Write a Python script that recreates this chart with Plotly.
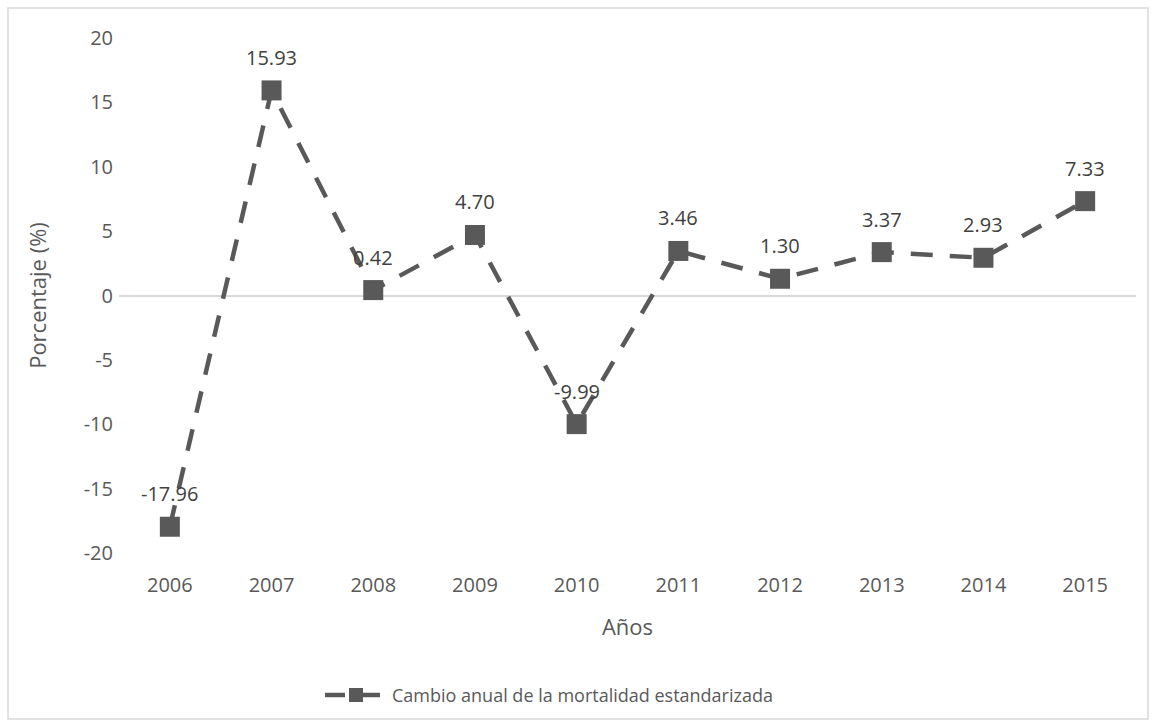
import plotly.graph_objects as go

years = [2006, 2007, 2008, 2009, 2010, 2011, 2012, 2013, 2014, 2015]
cambio = [-17.96, 15.93, 0.42, 4.70, -9.99, 3.46, 1.30, 3.37, 2.93, 7.33]
y_ticks = [-20, -15, -10, -5, 0, 5, 10, 15, 20]
series_name = "Cambio anual de la mortalidad estandarizada"

GREY = "#595959"
FONT = "Open Sans, Liberation Sans, sans-serif"

fig = go.Figure()
fig.add_trace(go.Scatter(
    x=years, y=cambio, mode="lines+markers", name=series_name, showlegend=False,
    line=dict(color=GREY, width=4.5, dash="22px,17px"),
    marker=dict(symbol="square", size=20, color=GREY),
))

# value labels above each point
for yr, v in zip(years, cambio):
    fig.add_annotation(x=yr, y=v, text=f"{v:.2f}", showarrow=False,
                       yshift=33, font=dict(family=FONT, size=20, color="#404040"))

# legend key drawn below the axis title: dashed stub, square, label
PW, PH, L, B = 1017, 515, 119, 553
def px(xp):
    return (xp - L) / PW
def py(yp):
    return (B - yp) / PH

legend_shapes = [
    dict(type="line", xref="paper", yref="paper", x0=px(325), x1=px(345),
         y0=py(695), y1=py(695), line=dict(color=GREY, width=4.5)),
    dict(type="line", xref="paper", yref="paper", x0=px(362), x1=px(380),
         y0=py(695), y1=py(695), line=dict(color=GREY, width=4.5)),
    dict(type="rect", xref="paper", yref="paper", x0=px(349), x1=px(363),
         y0=py(702), y1=py(688), fillcolor=GREY, line=dict(width=0)),
]
fig.add_annotation(xref="paper", yref="paper", x=px(390), y=py(695), text=series_name,
                   showarrow=False, xanchor="left", yanchor="middle",
                   font=dict(family=FONT, size=18, color=GREY))

fig.update_layout(
    width=1156, height=727,
    paper_bgcolor="white", plot_bgcolor="white",
    margin=dict(l=L, r=20, t=38, b=727 - B),
    font=dict(family=FONT, size=18, color=GREY),
    showlegend=False,
    shapes=[dict(type="rect", xref="paper", yref="paper", x0=px(8), x1=px(1148),
                 y0=py(719), y1=py(8), line=dict(color="#D9D9D9", width=1.5))] + legend_shapes,
)
fig.update_xaxes(range=[years[0] - 0.5, years[-1] + 0.5], tickvals=years,
                 ticktext=[str(y) for y in years],
                 showgrid=False, showline=False, zeroline=False,
                 ticks="", tickfont=dict(size=20, color=GREY), ticklabelstandoff=18,
                 title=dict(text="Años", font=dict(size=22, color=GREY), standoff=22))
fig.update_yaxes(range=[-20, 20], tickvals=y_ticks, ticktext=[str(t) for t in y_ticks],
                 showgrid=False, showline=False,
                 zeroline=True, zerolinecolor="#D9D9D9", zerolinewidth=1.5,
                 ticks="", tickfont=dict(size=20, color=GREY), ticklabelstandoff=5,
                 title=dict(text="Porcentaje (%)", font=dict(size=22, color=GREY), standoff=30))

fig.write_html("out.html")
